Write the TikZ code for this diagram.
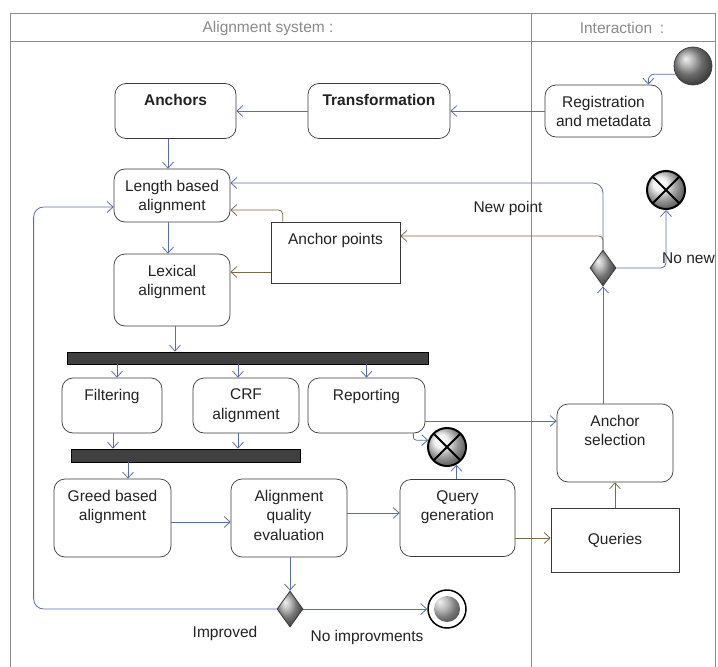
\documentclass[tikz,border=0pt]{standalone}
\usepackage{fontspec}
\setmainfont{Liberation Sans}
\usepackage{tikz}
\usepackage{xcolor}
\usetikzlibrary{arrows.meta,shapes.geometric}
\newcommand\nodefont{\fontsize{15.5bp}{19.5bp}\selectfont}

\begin{document}
\begin{tikzpicture}[x=1bp,y=-1bp,
  actbox/.style 2 args={draw=nodeline,line width=0.7bp,rounded corners=11bp,inner sep=0pt,text=textdark,font=\nodefont,
    execute at begin node={\begin{minipage}[c][#2][t]{#1}\centering\vspace*{11bp}},
    execute at end node={\end{minipage}}},
  objbox/.style={draw=nodeline,line width=0.7bp,inner sep=0pt,text=textdark,font=\nodefont},
  syncbar/.style={draw=black,fill=bardark,inner sep=0pt,line width=0.7bp},
  decision/.style={diamond,draw=nodeline,line width=0.8bp,inner sep=0pt,minimum width=26bp,minimum height=36bp,shading=ball,ball color=gray!70},
  initial/.style={circle,inner sep=0pt,minimum size=38bp,draw=nodeline,line width=0.7bp,shading=ball,ball color=gray!80},
  final/.style={circle,inner sep=0pt,minimum size=38bp,draw=black,line width=1.5bp,fill=white,
    path picture={\shade[ball color=gray!70] (path picture bounding box.center) circle (13bp);}},
  flowend/.style={circle,inner sep=0pt,minimum size=38bp,draw=black,line width=2bp,shading=ball,ball color=gray!15,
    path picture={\draw[black,line width=2bp] (path picture bounding box.north west) -- (path picture bounding box.south east)
      (path picture bounding box.south west) -- (path picture bounding box.north east);}},
  flow/.style={draw=flowblue,line width=0.8bp,-{Straight Barb[length=6bp,width=11bp]}},
  flowobj/.style={flow,draw=flowbrown},
  lbl/.style={font=\nodefont,text=textdark,inner sep=0pt},
  lanetitle/.style={font=\nodefont,text=lanegray,inner sep=0pt}]
\definecolor{flowblue}{HTML}{5A6FA8}
\definecolor{flowbrown}{HTML}{7D6B45}
\definecolor{nodeline}{HTML}{3A3A3A}
\definecolor{textdark}{HTML}{222222}
\definecolor{framegray}{HTML}{8C8C8C}
\definecolor{lanegray}{HTML}{8A8A8A}
\definecolor{bardark}{HTML}{404040}
\useasboundingbox (0,0) rectangle (718,667);

\draw[framegray,line width=1bp] (10,667) -- (10,14) -- (715,14) -- (715,667);
\draw[framegray,line width=1bp] (10,42) -- (715,42);
\draw[framegray,line width=1bp] (531,14) -- (531,667);
\node[lanetitle] (systitle) at (268,28) {Alignment system :};
\node[lanetitle] (usertitle) at (622,28) {Interaction\enspace:};

\node[initial] (start) at (693,66) {};
\node[actbox={117bp}{52bp}] (reg) at (603.5,111) {Registration\\and metadata};
\node[actbox={142bp}{55bp}] (trans) at (379,111) {\textbf{Transformation}};
\node[actbox={121bp}{55bp}] (anchors) at (175.5,111) {\textbf{Anchors}};
\node[actbox={116bp}{53bp}] (lenal) at (172,195.5) {Length based\\alignment};
\node[actbox={116bp}{72bp}] (lexal) at (172,290) {Lexical\\alignment};
\node[actbox={129bp}{61bp},sharp corners] (anchorpts) at (335.5,252.5) {Anchor points};
\node[syncbar,minimum width=361bp,minimum height=12bp] (bar1) at (247.5,358) {};
\node[actbox={100bp}{55bp}] (filter) at (112,405.5) {Filtering};
\node[actbox={106bp}{55bp}] (crf) at (246,405.5) {CRF\\alignment};
\node[actbox={117bp}{55bp}] (report) at (366.5,405.5) {Reporting};
\node[syncbar,minimum width=229bp,minimum height=13bp] (bar2) at (185.5,455.5) {};
\node[actbox={117bp}{78bp}] (greed) at (112.5,518) {Greed based\\alignment};
\node[actbox={116bp}{78bp}] (aqe) at (289,518) {Alignment\\quality\\evaluation};
\node[actbox={115bp}{77bp}] (qgen) at (457.5,518) {Query\\generation};
\node[flowend] (xend2) at (447,447) {};
\node[actbox={116bp}{78bp}] (anchsel) at (615,443) {Anchor\\selection};
\node[objbox,minimum width=128bp,minimum height=64bp] (queries) at (615,540) {Queries};
\node[decision] (dec2) at (290,609) {};
\node[final] (finish) at (447,609) {};
\node[decision] (dec1) at (603,268) {};
\node[flowend] (xend1) at (666,190) {};

\node[lbl] (newpt) at (508,208) {New point};
\node[lbl,anchor=west] (nonew) at (662,258) {No new};
\node[lbl] (improved) at (225,633) {Improved};
\node[lbl] (noimpr) at (367,637) {No improvments};

\draw[flow,rounded corners=6bp] (start.205) -| ([xshift=-14bp]reg.north east);
\draw[flow] (reg.west) -- (trans.east);
\draw[flow] (trans.west) -- (anchors.east);
\draw[flow] ([xshift=-4bp]lenal.north |- anchors.south) -- ([xshift=-4bp]lenal.north);
\draw[flow] ([xshift=-4bp]lenal.south) -- ([xshift=-4bp]lenal.south |- lexal.north);
\draw[flow] ([xshift=3bp]lexal.south) -- ([xshift=3bp]lexal.south |- bar1.north);
\foreach \nd/\dx in {filter/5bp,crf/-8bp,report/0bp}
  {\draw[flow] ([xshift=\dx]\nd.north |- bar1.south) -- ([xshift=\dx]\nd.north);}
\foreach \nd/\dx in {filter/1bp,crf/-8bp}
  {\draw[flow] ([xshift=\dx]\nd.south) -- ([xshift=\dx]\nd.south |- bar2.north);}
\draw[flow] ([xshift=15.5bp]greed.north |- bar2.south) -- ([xshift=15.5bp]greed.north);
\draw[flow] ([yshift=-4bp]greed.east) -- ([yshift=-4bp]greed.east -| aqe.west);
\draw[flow] ([yshift=5bp]aqe.east) -- ([yshift=5bp]aqe.east -| qgen.west);
\draw[flow] (aqe.south -| dec2.north) -- (dec2.north);
\draw[flow] (dec2.east) -- (finish.west);
\draw[flow,rounded corners=10bp] (dec2.west) -| ([xshift=-80bp,yshift=-11.5bp]lenal.west) -- ([yshift=-11.5bp]lenal.west);
\draw[flow] ([yshift=-15.5bp]report.east) -- ([yshift=-15.5bp]report.east -| anchsel.west);
\draw[flow,rounded corners=3bp] ([xshift=-12bp]report.south east) |- (xend2.160);
\draw[flow] (xend2.-62 |- qgen.north) -- (xend2.-62);
\draw[flowobj] ([yshift=-20bp]qgen.east) -- ([yshift=-20bp]qgen.east -| queries.west);
\draw[flowobj] (queries.north) -- (anchsel.south);
\draw[flowobj,rounded corners=4bp] (dec1.north) |- ([yshift=16.5bp]anchorpts.east);
\draw[flow] (anchsel.north -| dec1.south) -- (dec1.south);
\draw[flow,rounded corners=10bp] (dec1.north) |- ([yshift=12.5bp]lenal.east);
\draw[flow,rounded corners=5bp] (dec1.east) -| (xend1.south);
\draw[flowobj,rounded corners=4bp] ([xshift=12bp]anchorpts.north west) |- ([yshift=-14.5bp]lenal.east);
\draw[flowobj] ([yshift=-19.5bp]anchorpts.west) -- ([yshift=-19.5bp]anchorpts.west -| lexal.east);
\end{tikzpicture}
\end{document}
